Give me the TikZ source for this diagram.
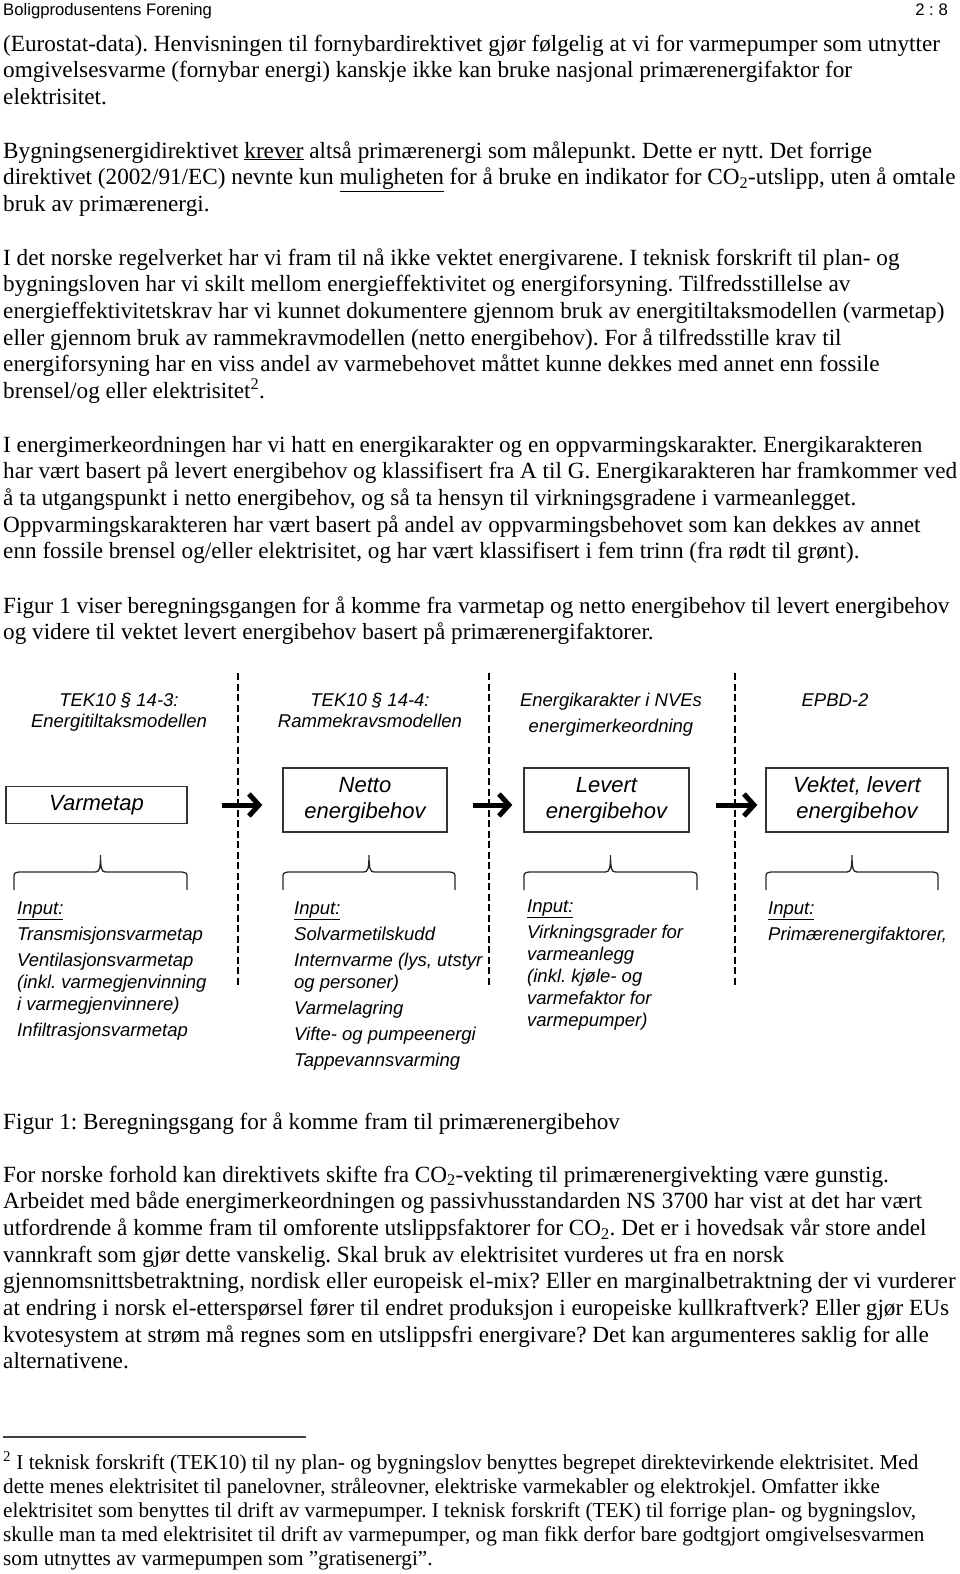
\documentclass[tikz,border=0pt]{standalone}
\usepackage{fontspec}
\setmainfont{Liberation Serif}
\setsansfont{Liberation Sans}
\usetikzlibrary{arrows.meta}

\begin{document}
\frenchspacing
\begin{tikzpicture}[x=1pt,y=-1pt,
    body/.style={anchor=base west,inner sep=0pt,font=\fontsize{23.2}{26}\selectfont},
    note/.style={anchor=base west,inner sep=0pt,font=\fontsize{21.2}{24}\selectfont},
    fig/.style={anchor=base,inner sep=0pt,font=\sffamily\itshape\fontsize{18.5}{21}\selectfont},
    inp/.style={fig,anchor=base west},
    stage/.style={draw=black!80,line width=1.4pt,inner sep=0pt,align=center,
        font=\sffamily\itshape\fontsize{22}{26}\selectfont},
    flow/.style={line width=5pt,-{Straight Barb[length=10pt,width=22pt,line width=5pt 0,sharp]}},
    divider/.style={line width=2.6pt,dash pattern=on 7pt off 3.5pt},
    bracket/.style={line width=1.3pt,black!85}]
    \useasboundingbox (0,0) rectangle (960,1574);

    % page head
    \node[anchor=base west,inner sep=0pt,font=\sffamily\fontsize{16.7}{20}\selectfont] (hdr) at (3,15) {Boligprodusentens Forening};
    \node[anchor=base east,inner sep=0pt,font=\sffamily\fontsize{16.7}{20}\selectfont] (pg) at (948,15) {2 : 8};

    % text above the figure
    \foreach \t [count=\n from 0] in {
        {(Eurostat-data). Henvisningen til fornybardirektivet gjør følgelig at vi for varmepumper som utnytter},
        {omgivelsesvarme (fornybar energi) kanskje ikke kan bruke nasjonal primærenergifaktor for},
        {elektrisitet.}}
        \node[body] (pa\n) at (3,51+26.7*\n) {\t};
    \foreach \t [count=\n from 0] in {
        {Bygningsenergidirektivet \underline{krever} altså primærenergi som målepunkt. Dette er nytt. Det forrige},
        {direktivet (2002/91/EC) nevnte kun \underline{muligheten} for å bruke en indikator for CO\textsubscript{2}-utslipp, uten å omtale},
        {bruk av primærenergi.}}
        \node[body] (pb\n) at (3,158+26.7*\n) {\t};
    \foreach \t [count=\n from 0] in {
        {I det norske regelverket har vi fram til nå ikke vektet energivarene. I teknisk forskrift til plan- og},
        {bygningsloven har vi skilt mellom energieffektivitet og energiforsyning. Tilfredsstillelse av},
        {energieffektivitetskrav har vi kunnet dokumentere gjennom bruk av energitiltaksmodellen (varmetap)},
        {eller gjennom bruk av rammekravmodellen (netto energibehov). For å tilfredsstille krav til},
        {energiforsyning har en viss andel av varmebehovet måttet kunne dekkes med annet enn fossile},
        {brensel/og eller elektrisitet\textsuperscript{2}.}}
        \node[body] (pc\n) at (3,265+26.7*\n) {\t};
    \foreach \t [count=\n from 0] in {
        {I energimerkeordningen har vi hatt en energikarakter og en oppvarmingskarakter. Energikarakteren},
        {har vært basert på levert energibehov og klassifisert fra A til G. Energikarakteren har framkommer ved},
        {å ta utgangspunkt i netto energibehov, og så ta hensyn til virkningsgradene i varmeanlegget.},
        {Oppvarmingskarakteren har vært basert på andel av oppvarmingsbehovet som kan dekkes av annet},
        {enn fossile brensel og/eller elektrisitet, og har vært klassifisert i fem trinn (fra rødt til grønt).}}
        \node[body] (pd\n) at (3,452+26.7*\n) {\t};
    \foreach \t [count=\n from 0] in {
        {Figur 1 viser beregningsgangen for å komme fra varmetap og netto energibehov til levert energibehov},
        {og videre til vektet levert energibehov basert på primærenergifaktorer.}}
        \node[body] (pe\n) at (3,613+26.7*\n) {\t};

    % figure: columns
    \foreach \x in {238,489,735}
        \draw[divider] (\x,673) -- (\x,987);
    \foreach \x/\y/\t [count=\n] in {119/706.5/{TEK10 § 14-3:}, 119/727.5/Energitiltaksmodellen,
        370/706.5/{TEK10 § 14-4:}, 370/727.5/Rammekravsmodellen,
        611/706.5/{Energikarakter i NVEs}, 611/732.5/energimerkeordning, 835/706.5/EPBD-2}
        \node[fig] (hd\n) at (\x,\y) {\t};

    % figure: stages
    \node[stage,minimum width=181pt,minimum height=37pt] (vt) at (96.5,805) {Varmetap};
    \node[stage,minimum width=164pt,minimum height=64pt] (ne) at (365,800) {Netto\\energibehov};
    \node[stage,minimum width=165pt,minimum height=64pt] (lv) at (606.5,800) {Levert\\energibehov};
    \node[stage,minimum width=182pt,minimum height=64pt] (vk) at (857,800) {Vektet, levert\\energibehov};
    \draw[flow,shorten <=34pt,shorten >=20pt] (vt.east) -- (vt.east -| ne.west);
    \draw[flow,shorten <=25pt,shorten >=11pt] (vt.east -| ne.east) -- (vt.east -| lv.west);
    \draw[flow,shorten <=26pt,shorten >=8pt] (vt.east -| lv.east) -- (vt.east -| vk.west);

    % figure: braces
    \foreach \a/\b in {14/187, 283/455, 524/697, 766/938} {
        \pgfmathsetmacro\m{(\a+\b)/2}
        \draw[bracket] (\a,890) -- (\a,878) .. controls (\a,873) .. (\a+5,872) -- (\m-5,872)
            .. controls (\m-1,872) and (\m,868) .. (\m,855)
            .. controls (\m,868) and (\m+1,872) .. (\m+5,872) -- (\b-5,872)
            .. controls (\b,873) .. (\b,878) -- (\b,890);
    }

    % figure: inputs
    \foreach \x/\y/\t [count=\n] in {17/914/{\underline{Input:}}, 17/940/Transmisjonsvarmetap,
        17/966/Ventilasjonsvarmetap, 17/988/{(inkl. varmegjenvinning}, 17/1010/{i varmegjenvinnere)},
        17/1036/Infiltrasjonsvarmetap,
        294/914/{\underline{Input:}}, 294/940/Solvarmetilskudd, 294/966/{Internvarme (lys, utstyr},
        294/988/{og personer)}, 294/1014/Varmelagring, 294/1040/{Vifte- og pumpeenergi},
        294/1066/Tappevannsvarming,
        527/912/{\underline{Input:}}, 527/938/{Virkningsgrader for}, 527/960/varmeanlegg,
        527/982/{(inkl. kjøle- og}, 527/1004/{varmefaktor for}, 527/1026/{varmepumper)},
        768/914/{\underline{Input:}}, 768/940/{Primærenergifaktorer,}}
        \node[inp] (in\n) at (\x,\y) {\t};

    % caption and text below
    \node[body] (cap) at (3,1129) {Figur 1: Beregningsgang for å komme fram til primærenergibehov};
    \foreach \t [count=\n from 0] in {
        {For norske forhold kan direktivets skifte fra CO\textsubscript{2}-vekting til primærenergivekting være gunstig.},
        {Arbeidet med både energimerkeordningen og passivhusstandarden NS 3700 har vist at det har vært},
        {utfordrende å komme fram til omforente utslippsfaktorer for CO\textsubscript{2}. Det er i hovedsak vår store andel},
        {vannkraft som gjør dette vanskelig. Skal bruk av elektrisitet vurderes ut fra en norsk},
        {gjennomsnittsbetraktning, nordisk eller europeisk el-mix? Eller en marginalbetraktning der vi vurderer},
        {at endring i norsk el-etterspørsel fører til endret produksjon i europeiske kullkraftverk? Eller gjør EUs},
        {kvotesystem at strøm må regnes som en utslippsfri energivare? Det kan argumenteres saklig for alle},
        {alternativene.}}
        \node[body] (pf\n) at (3,1182+26.7*\n) {\t};

    % footnote
    \draw[line width=1.2pt,black!75] (3,1437) -- (306,1437);
    \foreach \t [count=\n from 0] in {
        {\textsuperscript{2} I teknisk forskrift (TEK10) til ny plan- og bygningslov benyttes begrepet direktevirkende elektrisitet. Med},
        {dette menes elektrisitet til panelovner, stråleovner, elektriske varmekabler og elektrokjel. Omfatter ikke},
        {elektrisitet som benyttes til drift av varmepumper. I teknisk forskrift (TEK) til forrige plan- og bygningslov,},
        {skulle man ta med elektrisitet til drift av varmepumper, og man fikk derfor bare godtgjort omgivelsesvarmen},
        {som utnyttes av varmepumpen som ”gratisenergi”.}}
        \node[note] (fn\n) at (3,1469.5+24.1*\n) {\t};
\end{tikzpicture}
\end{document}
